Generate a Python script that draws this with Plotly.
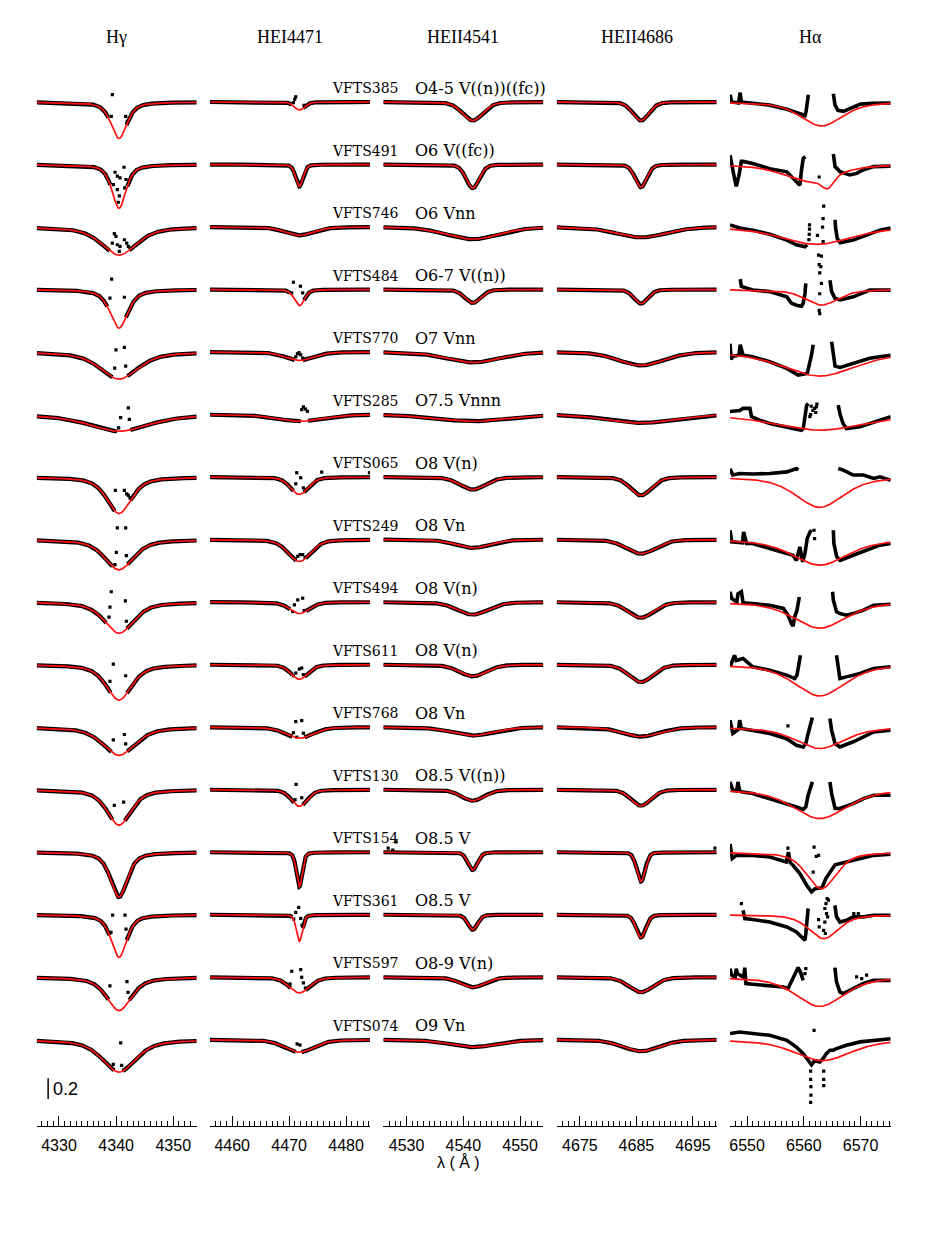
import numpy as np
import plotly.graph_objects as go

OFFSET = 0.6  # vertical shift between consecutive stars (continuum units)

STARS = ["VFTS385", "VFTS491", "VFTS746", "VFTS484", "VFTS770", "VFTS285",
         "VFTS065", "VFTS249", "VFTS494", "VFTS611", "VFTS768", "VFTS130",
         "VFTS154", "VFTS361", "VFTS597", "VFTS074"]
SPTYPES = ["O4-5 V((n))((fc))", "O6 V((fc))", "O6 Vnn", "O6-7 V((n))",
           "O7 Vnn", "O7.5 Vnnn", "O8 V(n)", "O8 Vn", "O8 V(n)", "O8 V(n)",
           "O8 Vn", "O8.5 V((n))", "O8.5 V", "O8.5 V", "O8-9 V(n)", "O9 Vn"]

LINES = ["Hγ", "HEI4471", "HEII4541", "HEII4686", "Hα"]
LINE_CENTER = [4340.5, 4471.8, 4541.66, 4685.8]
XRANGES = [(4326.1, 4354.1), (4456.1, 4484.2), (4525.9, 4554.1),
           (4670.9, 4699.2), (6547.0, 6575.3)]
MAJOR_TICKS = [[4330, 4335, 4340, 4345, 4350], [4460, 4465, 4470, 4475, 4480],
               [4530, 4535, 4540, 4545, 4550], [4675, 4680, 4685, 4690, 4695],
               [6550, 6555, 6560, 6565, 6570, 6575]]
TICK_LABELS = [["4330", "", "4340", "", "4350"], ["4460", "", "4470", "", "4480"],
               ["4530", "", "4540", "", "4550"], ["4675", "", "4685", "", "4695"],
               ["6550", "", "6560", "", "6570", ""]]

# --- fitted model profiles (depth, FWHM in Angstrom) per star -------------
HG_DEPTH = [0.35, 0.42, 0.27, 0.37, 0.26, 0.16, 0.35, 0.29, 0.30, 0.34, 0.27, 0.34, 0.43, 0.41, 0.32, 0.31]
HG_FWHM = [3.3, 2.9, 7.3, 3.7, 7.9, 12.6, 5.1, 6.0, 6.1, 5.3, 6.8, 5.0, 3.5, 3.2, 5.1, 7.0]
HE1_DEPTH = [0.077, 0.21, 0.08, 0.154, 0.08, 0.064, 0.167, 0.21, 0.11, 0.14, 0.106, 0.16, 0.33, 0.256, 0.15, 0.12]
HE1_FWHM = [2.1, 1.5, 5.8, 2.1, 5.8, 9.4, 3.7, 4.7, 4.0, 3.5, 5.6, 3.3, 1.2, 1.2, 4.2, 6.0]
HE2A_DEPTH = [0.178, 0.227, 0.117, 0.128, 0.10, 0.064, 0.12, 0.08, 0.12, 0.112, 0.08, 0.106, 0.17, 0.144, 0.096, 0.07]
HE2A_FWHM = [4.3, 2.75, 11.0, 3.3, 11.0, 15.0, 5.3, 7.0, 6.4, 5.6, 8.8, 4.7, 2.0, 2.0, 5.0, 9.6]
HE2B_DEPTH = [0.178, 0.218, 0.10, 0.135, 0.128, 0.08, 0.176, 0.135, 0.15, 0.167, 0.09, 0.154, 0.28, 0.218, 0.144, 0.11]
HE2B_FWHM = [3.4, 2.45, 10.4, 2.9, 9.4, 14.0, 4.4, 6.1, 5.3, 5.0, 7.6, 4.1, 1.75, 2.0, 5.0, 7.6]

HA_CEN = [6563.1, 6561.0, 6562.2, 6563.1, 6562.8, 6562.8, 6562.8, 6562.8,
          6562.8, 6562.8, 6562.8, 6562.8, 6563.1, 6563.5, 6562.8, 6563.3]
HA_DEPTH = [0.23, 0.16, 0.167, 0.15, 0.23, 0.15, 0.29, 0.245, 0.25, 0.30, 0.205, 0.277, 0.35, 0.23, 0.28, 0.20]
HA_FWHM = [8.8, 11.0, 14.7, 6.8, 15.3, 18.8, 10.0, 11.5, 10.9, 10.6, 10.3, 11.2, 6.2, 6.2, 10.0, 11.8]
HA2_CEN = [0, 6564.2, 0, 0, 0, 0, 0, 0, 0, 0, 0, 0, 0, 0, 0, 0]
HA2_DEPTH = [0, 0.11, 0, 0, 0, 0, 0, 0, 0, 0, 0, 0, 0, 0, 0, 0]
HA2_FWHM = [1, 2.5, 1, 1, 1, 1, 1, 1, 1, 1, 1, 1, 1, 1, 1, 1]

# --- observed spectra: core range lost to nebular contamination (offset from
#     line centre, Angstrom) and the scattered points (offset, flux) ---------
HG_GAP = [(-1.8, 1.3), (-1.5, 1.45), (-1.6, 1.8), (-2.0, 1.2), (-1.1, 1.5), (-0.3, 2.0),
          (-0.7, 2.0), (-1.1, 1.5), (-2.2, 1.4), (-1.4, 1.4), (-1.3, 1.45), (-1.1, 1.0),
          (0, 0), (-1.6, 1.35), (-1.8, 1.8), (-0.8, 0.7)]
HG_DOTS = [
    [(-1.17, 1.07), (-1.35, 0.862), (1.17, 0.862), (1.46, 0.814)],
    [(-0.70, 0.926), (-0.29, 0.888), (0.18, 0.872), (0.88, 0.974), (-0.99, 0.808),
     (-0.29, 0.76), (0.06, 0.70), (-0.12, 0.638), (1.23, 0.856), (0.99, 0.776)],
    [(-0.82, 0.936), (-0.53, 0.91), (-1.17, 0.846), (-0.29, 0.83), (0.18, 0.814),
     (0.06, 0.766), (0.94, 0.878), (1.35, 0.846), (1.64, 0.814)],
    [(-1.29, 1.10), (-1.58, 0.917), (0.94, 0.926)],
    [(-0.53, 1.022), (0.94, 1.045), (-0.76, 0.846), (1.17, 0.865)],
    [(1.64, 1.064), (0.29, 0.971), (1.81, 0.955), (-0.06, 0.872)],
    [(-0.64, 0.872), (0.94, 0.872), (1.35, 0.84), (1.64, 0.824), (1.93, 0.80)],
    [(-0.29, 1.112), (1.17, 1.112), (-0.47, 0.878), (1.29, 0.846), (-0.70, 0.76)],
    [(-1.35, 1.10), (1.11, 1.013), (-1.58, 0.952), (-1.75, 0.856), (1.29, 0.817)],
    [(-0.99, 1.006), (1.17, 0.894), (-1.58, 0.84)],
    [(0.94, 0.93), (-0.99, 0.878), (1.17, 0.84)],
    [(-0.82, 0.849), (0.82, 0.881)],
    [],
    [(-1.11, 0.997), (1.05, 0.997), (-1.40, 0.83), (1.23, 0.862)],
    [(-1.58, 0.917), (1.40, 0.958), (1.58, 0.856)],
    [(-1.0, 0.765), (0.47, 0.755), (0.3, 0.97)],
]
HE1_GAP = [(-1.3, 0.7), (0, 0), (0, 0), (-1.6, 0.8), (-0.8, 0.6), (0.3, 1.5),
           (-1.0, 0.8), (-0.5, 1.1), (-1.6, 1.2), (-1.2, 0.9), (-1.2, 0.9), (-0.9, 0.6),
           (0, 0), (-1.2, 0.6), (-1.5, 1.1), (-0.6, 0.4)]
HE1_DOTS = [
    [(-0.64, 1.05), (-1.05, 0.994), (0.82, 0.968), (-0.82, 1.026)],
    [], [],
    [(-1.05, 1.07), (0.18, 1.032), (-1.35, 0.968), (0.58, 0.968)],
    [(-0.64, 0.955), (-0.35, 0.984), (-0.06, 0.994), (0.23, 0.974), (0.58, 0.942)],
    [(0.41, 1.048), (0.70, 1.074), (1.05, 1.054), (1.40, 1.032)],
    [(-0.47, 1.042), (0.23, 0.994), (-0.64, 0.936), (0.70, 0.897), (3.92, 1.048), (12.3, 1.042)],
    [(-0.29, 0.84), (0.12, 0.856), (0.58, 0.856), (0.99, 0.83)],
    [(-0.29, 1.022), (0.58, 1.038), (-0.88, 0.974), (-1.17, 0.91), (0.82, 0.92)],
    [(-0.64, 0.92), (0.0, 0.958), (0.41, 0.968), (0.70, 0.904), (-1.05, 0.894)],
    [(-0.64, 1.054), (0.41, 1.064), (-1.05, 0.946), (-0.47, 0.904), (0.70, 0.942)],
    [(-0.58, 1.051), (-0.76, 0.904), (0.41, 0.923)],
    [],
    [(-0.12, 1.07), (-0.64, 1.022), (0.23, 0.965), (-0.99, 0.958), (0.47, 0.90)],
    [(-1.35, 1.058), (0.23, 1.074), (-1.64, 0.936), (0.41, 1.0), (0.70, 0.946), (1.05, 0.897)],
    [(-0.4, 0.96), (0.1, 0.95)],
]
NO_GAP = [(0, 0)] * 16
HE2A_DOTS = [[] for _ in range(16)]
HE2A_DOTS[12] = [(-14.9, 1.04), (-13.5, 1.10), (-14.1, 1.02)]
HE2B_DOTS = [[] for _ in range(16)]
HE2B_DOTS[12] = [(13.1, 1.04)]

# H-alpha observed spectra: continuous pieces of (wavelength, flux) + loose points
HA_OBS = [
    [[(6547.0, 1.07), (6547.3, 1.0), (6548.5, 0.99), (6548.8, 1.09), (6549.0, 1.0), (6551.0, 0.987),
      (6554.0, 0.97), (6557.0, 0.93), (6559.3, 0.885), (6560.2, 0.87), (6560.4, 0.91), (6560.6, 0.99),
      (6560.8, 1.07)],
     [(6565.2, 1.08), (6565.5, 0.97), (6566.0, 0.92), (6567.0, 0.91), (6568.7, 0.95), (6570.0, 0.98),
      (6572.0, 0.987), (6575.3, 0.99)]],
    [[(6547.0, 1.09), (6547.3, 0.98), (6547.6, 0.92), (6548.1, 0.79), (6548.6, 0.90), (6549.0, 1.03),
      (6549.3, 1.03), (6551.0, 1.01), (6554.0, 0.96), (6557.0, 0.93), (6558.1, 0.87), (6559.0, 0.82),
      (6559.3, 0.80), (6559.6, 0.95), (6559.9, 1.06), (6560.3, 1.075)],
     [(6565.2, 1.10), (6565.5, 0.98), (6566.4, 0.93), (6568.1, 0.90), (6569.3, 0.915), (6570.5, 0.95),
      (6572.3, 0.98), (6575.3, 0.985)]],
    [[(6547.0, 1.02), (6548.7, 0.99), (6551.0, 0.97), (6554.0, 0.93), (6557.0, 0.875), (6558.7, 0.83),
      (6560.2, 0.81), (6560.6, 0.83)],
     [(6565.5, 1.07), (6565.6, 0.99), (6565.9, 0.89), (6566.4, 0.85), (6568.7, 0.875), (6571.6, 0.93),
      (6573.4, 0.97), (6575.3, 0.99)]],
    [[(6548.8, 1.10), (6549.0, 1.03), (6551.0, 0.995), (6554.0, 0.98), (6557.0, 0.93), (6557.8, 0.87),
      (6558.7, 0.85), (6559.6, 0.84), (6559.9, 0.87), (6560.2, 0.96), (6560.35, 1.06)],
     [(6564.6, 1.09), (6564.9, 0.98), (6565.5, 0.915), (6566.4, 0.90), (6568.7, 0.93), (6569.9, 0.96),
      (6571.6, 0.995), (6575.3, 0.995)]],
    [[(6547.0, 1.08), (6547.2, 0.93), (6547.5, 0.96), (6548.6, 0.97), (6548.8, 1.07), (6549.3, 0.97),
      (6551.0, 0.955), (6554.0, 0.907), (6557.0, 0.843), (6559.0, 0.78), (6560.6, 0.795), (6560.9, 0.86),
      (6561.35, 0.97), (6561.65, 1.07)],
     [(6564.9, 1.10), (6565.2, 0.99), (6565.5, 0.865), (6566.4, 0.853), (6568.7, 0.89), (6571.6, 0.94),
      (6573.4, 0.955), (6575.3, 0.97)]],
    [[(6547.0, 1.03), (6548.7, 1.04), (6549.3, 1.06), (6550.5, 1.06), (6550.8, 0.98), (6552.2, 0.947),
      (6554.0, 0.915), (6557.0, 0.883), (6559.6, 0.85), (6559.9, 0.867), (6560.2, 1.01), (6560.5, 1.09),
      (6560.8, 1.107)],
     [(6566.06, 1.09), (6566.35, 1.01), (6566.9, 0.915), (6567.5, 0.867), (6569.9, 0.883),
      (6571.65, 0.915), (6573.4, 0.947), (6575.3, 0.98)]],
    [[(6547.0, 1.08), (6547.5, 1.02), (6548.7, 1.035), (6551.0, 1.03), (6554.0, 1.035), (6557.0, 1.05),
      (6558.7, 1.083), (6559.0, 1.067)],
     [(6566.06, 1.083), (6566.94, 1.067), (6568.7, 1.02), (6570.5, 1.02), (6572.3, 0.987),
      (6573.4, 1.003), (6575.3, 0.97)]],
    [[(6547.0, 1.09), (6547.3, 0.98), (6549.2, 0.97), (6549.4, 1.075), (6549.9, 0.963), (6551.0, 0.963),
      (6554.0, 0.915), (6557.0, 0.867), (6558.1, 0.85), (6558.7, 0.80), (6559.3, 0.93), (6559.8, 0.787),
      (6560.2, 0.867), (6560.6, 1.01), (6561.1, 1.075), (6561.4, 1.09)],
     [(6565.2, 1.09), (6565.3, 0.963), (6565.8, 0.835), (6566.4, 0.80), (6568.7, 0.85), (6571.65, 0.915),
      (6573.4, 0.947), (6575.3, 0.963)]],
    [[(6547.0, 1.10), (6547.3, 1.035), (6548.2, 1.0), (6548.4, 1.08), (6549.0, 1.10), (6549.3, 0.994),
      (6551.0, 0.987), (6554.0, 0.97), (6556.4, 0.94), (6557.2, 0.875), (6557.8, 0.795), (6558.1, 0.77),
      (6558.4, 0.86), (6558.8, 0.923), (6559.2, 1.05)],
     [(6565.06, 1.10), (6565.2, 1.02), (6565.76, 0.907), (6566.35, 0.89), (6567.5, 0.875), (6568.7, 0.89),
      (6570.5, 0.923), (6572.3, 0.97), (6575.3, 0.98)]],
    [[(6547.0, 0.98), (6547.8, 1.09), (6548.1, 1.04), (6549.3, 1.06), (6551.0, 0.98), (6554.0, 0.947),
      (6557.0, 0.90), (6558.4, 0.867), (6558.8, 0.90), (6559.2, 1.01), (6559.4, 1.09)],
     [(6565.76, 1.09), (6566.06, 0.98), (6566.35, 0.867), (6567.5, 0.883), (6569.9, 0.915),
      (6572.3, 0.963), (6575.3, 0.98)]],
    [[(6547.0, 1.067), (6547.5, 0.94), (6548.5, 0.98), (6548.7, 1.067), (6549.0, 0.987), (6551.0, 0.97),
      (6554.0, 0.94), (6557.0, 0.89), (6558.7, 0.827), (6559.9, 0.81), (6560.35, 0.843), (6560.76, 0.94),
      (6561.2, 1.035), (6561.5, 1.093)],
     [(6564.6, 1.083), (6564.9, 0.97), (6565.5, 0.843), (6566.35, 0.81), (6568.7, 0.86), (6570.5, 0.907),
      (6572.3, 0.955), (6575.3, 0.97)]],
    [[(6547.0, 1.075), (6547.5, 0.995), (6548.2, 0.99), (6548.4, 1.075), (6548.7, 0.99), (6549.0, 0.98),
      (6551.0, 0.963), (6554.0, 0.915), (6557.0, 0.867), (6558.7, 0.835), (6559.9, 0.81),
      (6560.35, 0.835), (6560.76, 0.947), (6561.2, 1.043), (6561.5, 1.075)],
     [(6564.6, 1.075), (6564.9, 0.963), (6565.5, 0.82), (6566.35, 0.82), (6568.7, 0.867),
      (6570.5, 0.915), (6572.3, 0.947), (6575.3, 0.947)]],
    [[(6547.0, 1.08), (6547.4, 0.94), (6548.1, 0.97), (6551.0, 0.97), (6554.0, 0.955), (6556.9, 0.907),
      (6557.3, 1.0), (6557.6, 0.9), (6558.1, 0.875), (6559.3, 0.795), (6560.5, 0.683), (6561.05, 0.635),
      (6561.35, 0.62), (6562.0, 0.65), (6563.2, 0.66), (6563.9, 0.75), (6564.6, 0.81), (6565.5, 0.88),
      (6567.5, 0.907), (6569.9, 0.94), (6572.3, 0.97), (6575.3, 0.98)]],
    [[(6549.3, 1.043), (6549.6, 0.963), (6551.0, 0.954), (6554.0, 0.93), (6557.0, 0.883), (6558.7, 0.835),
      (6559.6, 0.787), (6560.2, 0.755), (6560.35, 0.82), (6560.6, 0.947), (6560.76, 1.06)],
     [(6565.47, 1.09), (6565.76, 0.98), (6566.35, 0.93), (6567.5, 0.947), (6568.7, 0.98), (6570.5, 0.98),
      (6572.3, 0.995), (6575.3, 0.995)]],
    [[(6547.0, 1.083), (6547.3, 1.02), (6547.9, 1.0), (6548.1, 1.083), (6548.3, 1.035), (6549.4, 1.0),
      (6549.6, 1.093), (6549.8, 0.94), (6551.0, 0.933), (6554.0, 0.923), (6556.4, 0.907), (6557.2, 0.89),
      (6557.8, 0.955), (6558.4, 1.035), (6559.0, 1.093), (6559.4, 1.05), (6559.9, 0.97)],
     [(6565.47, 1.093), (6565.76, 0.955), (6566.35, 0.86), (6566.94, 0.843), (6568.7, 0.89),
      (6570.5, 0.94), (6572.3, 0.97), (6575.3, 0.97)]],
    [[(6547.0, 1.06), (6548.7, 1.075), (6551.0, 1.06), (6554.0, 1.043), (6557.0, 0.995), (6558.7, 0.93),
      (6559.9, 0.867), (6560.76, 0.80), (6561.35, 0.76), (6561.9, 0.80), (6562.8, 0.787), (6563.4, 0.82),
      (6564.0, 0.87), (6564.6, 0.90), (6565.2, 0.90), (6565.76, 0.915), (6567.5, 0.947), (6569.9, 0.98),
      (6572.3, 0.995), (6575.3, 1.01)]],
]
HA_DOTS = [
    [(6569.2, 0.955), (6547.1, 1.04)],
    [(6562.7, 0.88)],
    [(6560.9, 0.88), (6560.95, 0.93), (6561.0, 0.98), (6561.0, 1.02), (6562.4, 0.92), (6563.3, 1.0),
     (6563.4, 1.08), (6563.5, 1.2), (6563.4, 0.86)],
    [(6562.6, 1.33), (6563.1, 1.32), (6562.7, 1.24), (6563.0, 1.22), (6562.8, 1.16), (6563.1, 1.06),
     (6562.8, 0.96), (6562.7, 0.80), (6562.8, 0.77)],
    [],
    [(6561.05, 0.98), (6561.2, 1.0), (6561.6, 1.04), (6561.9, 1.06), (6562.2, 1.075), (6562.1, 1.02),
     (6562.3, 1.10), (6561.3, 1.08)],
    [],
    [(6561.8, 1.09), (6561.9, 1.01)],
    [], [],
    [(6557.2, 1.013)],
    [],
    [(6561.8, 1.05), (6562.2, 0.96), (6562.6, 0.97), (6561.65, 0.81), (6557.2, 1.04)],
    [(6549.0, 1.107), (6562.6, 0.954), (6562.7, 0.883), (6563.7, 1.06), (6563.9, 1.107), (6564.1, 1.155),
     (6564.0, 1.01), (6564.35, 1.14), (6564.2, 0.98), (6563.7, 0.93), (6563.5, 0.85), (6563.8, 0.82),
     (6568.8, 1.01), (6569.6, 1.01)],
    [(6560.2, 1.035), (6560.35, 1.083), (6569.3, 1.003), (6570.2, 0.987), (6571.05, 1.02)],
    [(6561.2, 0.70), (6561.2, 0.62), (6561.25, 0.55), (6561.25, 0.47), (6561.2, 0.40), (6563.5, 0.70),
     (6563.5, 0.62), (6563.5, 0.56), (6561.8, 1.09)],
]

SCALE_BAR = 0.2

# layout geometry, in pixels of the browser page; the page body adds an 8 px margin
PAGE = 8
W, H = 926 - PAGE, 1252 - PAGE
PLOT_TOP, PLOT_BOTTOM = 60 - PAGE, 1126 - PAGE
PX_PER_UNIT = 104.2
ROW0_PX = 102 - PAGE
COL_PX = [(36.7, 196.7), (210, 370), (383.3, 543.3), (556.7, 716.7), (730, 890.7)]
RED = "#ff1010"


def pvoigt(dl, depth, fwhm, eta):
    g = np.exp(-4 * np.log(2) * (dl / fwhm) ** 2)
    l = 1.0 / (1.0 + (2 * dl / fwhm) ** 2)
    return 1.0 - depth * (eta * l + (1 - eta) * g)


def row_base(i):
    return -1.0 - OFFSET * i


def paper_x(px):
    return (px - PAGE) / W


def paper_y(px):
    return (PLOT_BOTTOM - (px - PAGE)) / (PLOT_BOTTOM - PLOT_TOP)


fig = go.Figure()

panels = [
    (HG_DEPTH, HG_FWHM, 0.6, HG_GAP, HG_DOTS),
    (HE1_DEPTH, HE1_FWHM, 0.3, HE1_GAP, HE1_DOTS),
    (HE2A_DEPTH, HE2A_FWHM, 0.2, NO_GAP, HE2A_DOTS),
    (HE2B_DEPTH, HE2B_FWHM, 0.2, NO_GAP, HE2B_DOTS),
]

for c, (depth, fwhm, eta, gap, dots) in enumerate(panels):
    xa = "x" if c == 0 else f"x{c + 1}"
    lo, hi = XRANGES[c]
    lam = np.arange(lo, hi + 0.001, 0.05)
    dl = lam - LINE_CENTER[c]
    bx, by, rx, ry, dx, dy = [], [], [], [], [], []
    for i in range(16):
        prof = pvoigt(dl, depth[i], fwhm[i], eta) + row_base(i)
        g0, g1 = gap[i]
        obs = np.where((dl > g0) & (dl < g1), np.nan, prof)
        bx += list(lam) + [None]
        by += list(obs) + [None]
        rx += list(lam) + [None]
        ry += list(prof) + [None]
        for d, f in dots[i]:
            dx.append(LINE_CENTER[c] + d)
            dy.append(f + row_base(i))
    fig.add_trace(go.Scatter(x=bx, y=by, xaxis=xa, yaxis="y", mode="lines",
                             line=dict(color="black", width=4.2), connectgaps=False,
                             hoverinfo="skip"))
    fig.add_trace(go.Scatter(x=dx, y=dy, xaxis=xa, yaxis="y", mode="markers",
                             marker=dict(color="black", size=3.2, symbol="square"),
                             hoverinfo="skip"))
    fig.add_trace(go.Scatter(x=rx, y=ry, xaxis=xa, yaxis="y", mode="lines",
                             line=dict(color=RED, width=1.7), hoverinfo="skip"))

# H-alpha column
lo, hi = XRANGES[4]
lam = np.arange(lo, hi + 0.001, 0.05)
bx, by, rx, ry, dx, dy = [], [], [], [], [], []
for i in range(16):
    prof = pvoigt(lam - HA_CEN[i], HA_DEPTH[i], HA_FWHM[i], 0.5)
    if HA2_DEPTH[i] > 0:
        prof = prof - (1 - pvoigt(lam - HA2_CEN[i], HA2_DEPTH[i], HA2_FWHM[i], 0.3))
    rx += list(lam) + [None]
    ry += list(prof + row_base(i)) + [None]
    for seg in HA_OBS[i]:
        bx += [p[0] for p in seg] + [None]
        by += [p[1] + row_base(i) for p in seg] + [None]
    for w, f in HA_DOTS[i]:
        dx.append(w)
        dy.append(f + row_base(i))
fig.add_trace(go.Scatter(x=bx, y=by, xaxis="x5", yaxis="y", mode="lines",
                         line=dict(color="black", width=3.6), hoverinfo="skip"))
fig.add_trace(go.Scatter(x=dx, y=dy, xaxis="x5", yaxis="y", mode="markers",
                         marker=dict(color="black", size=3.2, symbol="square"),
                         hoverinfo="skip"))
fig.add_trace(go.Scatter(x=rx, y=ry, xaxis="x5", yaxis="y", mode="lines",
                         line=dict(color=RED, width=1.7), hoverinfo="skip"))

# axes
y_top = (ROW0_PX - PLOT_TOP) / PX_PER_UNIT
y_bot = -(PLOT_BOTTOM - ROW0_PX) / PX_PER_UNIT
layout_axes = {}
for c in range(5):
    key = "xaxis" if c == 0 else f"xaxis{c + 1}"
    lo, hi = XRANGES[c]
    minor_vals = list(range(int(np.ceil(lo)), int(np.floor(hi)) + 1))
    layout_axes[key] = dict(
        domain=[paper_x(COL_PX[c][0]), paper_x(COL_PX[c][1])], anchor="y",
        range=[lo, hi], showgrid=False, zeroline=False,
        showline=True, linecolor="black", linewidth=1.4,
        tickmode="array", tickvals=MAJOR_TICKS[c], ticktext=TICK_LABELS[c],
        ticks="inside", ticklen=10, tickwidth=1.2, tickcolor="black",
        minor=dict(tickmode="array", tickvals=minor_vals, ticks="inside",
                   ticklen=5, tickwidth=1.2, tickcolor="black", showgrid=False),
        tickfont=dict(family="Liberation Sans", size=16, color="black"),
        ticklabelstandoff=5, fixedrange=True,
    )
layout_axes["yaxis"] = dict(domain=[0, 1], anchor="x", range=[y_bot, y_top],
                            visible=False, showgrid=False, zeroline=False, fixedrange=True)

annotations = []
for c, name in enumerate(LINES):
    xa = "x" if c == 0 else f"x{c + 1}"
    lo, hi = XRANGES[c]
    annotations.append(dict(x=(lo + hi) / 2, xref=xa, y=paper_y(37), yref="paper",
                            text=name, showarrow=False, xanchor="center", yanchor="middle",
                            font=dict(family="Liberation Serif", size=18, color="black")))
for i in range(16):
    ylab = -OFFSET * i + 14 / PX_PER_UNIT
    annotations.append(dict(x=paper_x(330), xref="paper", y=ylab, yref="y", text=STARS[i],
                            xanchor="left", yanchor="middle", showarrow=False,
                            font=dict(family="DejaVu Serif", size=14, color="black")))
    annotations.append(dict(x=paper_x(413), xref="paper", y=ylab, yref="y", text=SPTYPES[i],
                            xanchor="left", yanchor="middle", showarrow=False,
                            font=dict(family="DejaVu Serif", size=16, color="black")))

# scale bar
sb_x = 4328.1
sb_y0 = -(1099 - PAGE - ROW0_PX) / PX_PER_UNIT
annotations.append(dict(x=sb_x + 0.5, xref="x", y=sb_y0 + SCALE_BAR / 2, yref="y",
                        text=f"{SCALE_BAR}", xanchor="left", yanchor="middle", showarrow=False,
                        font=dict(family="Liberation Sans", size=18, color="black")))
annotations.append(dict(x=paper_x(458), xref="paper", y=paper_y(1162), yref="paper",
                        text="λ ( Å )", showarrow=False, xanchor="center", yanchor="middle",
                        font=dict(family="Liberation Sans", size=16, color="black")))

fig.add_shape(type="line", xref="x", yref="y", x0=sb_x, x1=sb_x,
              y0=sb_y0, y1=sb_y0 + SCALE_BAR, line=dict(color="black", width=1.5))

fig.update_layout(
    width=W, height=H, margin=dict(l=0, r=0, t=PLOT_TOP, b=H - PLOT_BOTTOM),
    plot_bgcolor="white", paper_bgcolor="white", showlegend=False,
    annotations=annotations, **layout_axes,
)

fig.write_html("out.html")
